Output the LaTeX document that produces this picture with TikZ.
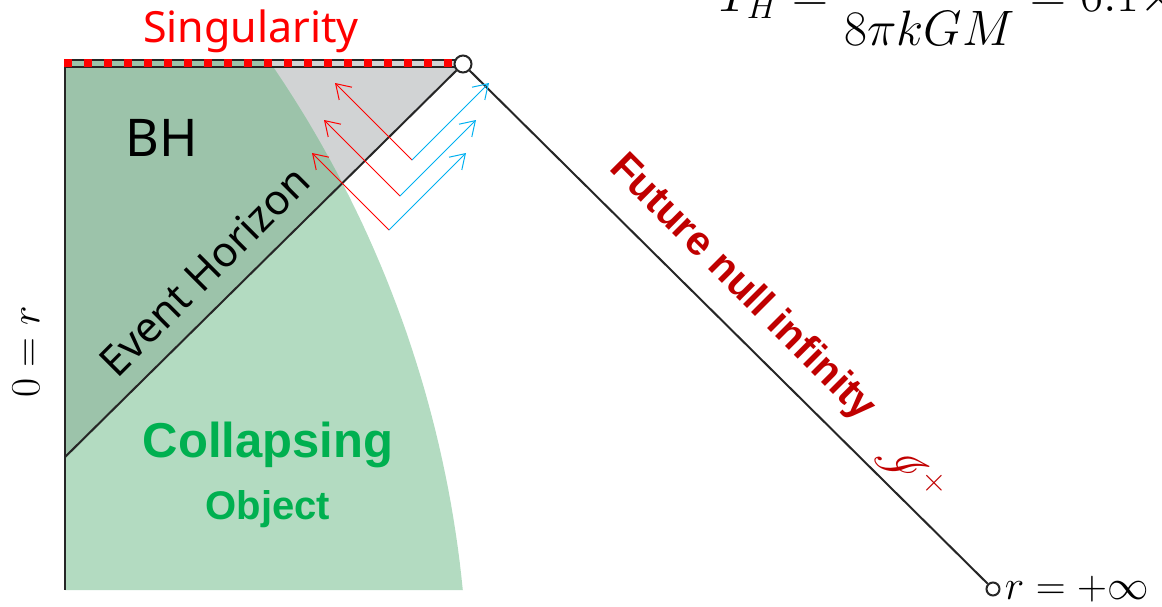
\documentclass[tikz,border=0pt]{standalone}
\usepackage[no-math]{fontspec}
\setmainfont{Noto Sans}
\newfontfamily\heavysans{Liberation Sans}
\usepackage{amsmath}
\usepackage{mathrsfs}
\usepackage{tikz}
\usetikzlibrary{arrows.meta, positioning}
\definecolor{bhgreen}{RGB}{156,195,170}
\definecolor{objgreen}{RGB}{179,219,193}
\definecolor{bhgray}{RGB}{209,211,212}
\definecolor{objtext}{RGB}{0,176,80}
\definecolor{scrired}{RGB}{192,0,0}
\definecolor{rayblue}{RGB}{0,176,240}
\tikzset{
  boundary/.style={draw=black!85, line width=1pt},
  endpoint/.style={circle, draw=black!85, fill=white, line width=1pt, inner sep=0pt},
  ray/.style={-{Straight Barb[length=7pt, width=9pt]}, line width=0.5pt},
  inray/.style={ray, draw=red},
  outray/.style={ray, draw=rayblue},
  bigmath/.style={font=\fontsize{21}{24}\selectfont, inner sep=0pt}
}

\begin{document}
\begin{tikzpicture}[x=0.5pt, y=-0.5pt]
\useasboundingbox (0,0) rectangle (1162,606);
\clip (0,0) rectangle (1162,606);

% Regions: inside the horizon, then the collapsing object
\fill[bhgray] (65,60) -- (466,60) -- (65,459) -- cycle;
\fill[objgreen] (65,590) -- (463,590)
  -- plot[domain=-5.63:-34.7, samples=40] ({-658.3+1126.6*cos(\x)}, {700.6+1126.6*sin(\x)})
  -- (65,60) -- cycle;
\begin{scope}
  \clip (65,60) -- (466,60) -- (65,459) -- cycle;
  \fill[bhgreen] (65,590) -- (463,590)
    -- plot[domain=-5.63:-34.7, samples=40] ({-658.3+1126.6*cos(\x)}, {700.6+1126.6*sin(\x)})
    -- (65,60) -- cycle;
\end{scope}

% Ends of the diagram
\node (iplus) [endpoint, minimum size=8.5pt] at (463,64) {};
\node (izero) [endpoint, minimum size=6.5pt] at (993,589) {};
\coordinate (rzerotop) at (65,60);
\coordinate (rzerobot) at (65,590);
\coordinate (hbot) at (65,457);
\coordinate (singleft) at (64,63);
\coordinate (singright) at (455,63);

% Boundaries
\draw[boundary] (rzerotop) -- (rzerobot);
\draw[boundary] (hbot) -- (iplus);
\draw[boundary] (iplus) -- (izero);
\draw[boundary] ([yshift=1.75pt]singleft) -- ([yshift=1.75pt]singright);
\draw[boundary] ([yshift=-1.75pt]singleft) -- ([yshift=-1.75pt]singright);
\draw[red, line width=4.2pt, dash pattern=on 4.2pt off 5.8pt] (singleft) -- ([xshift=-1.5pt]singright);

% Hawking pairs at the horizon
\foreach \vx/\vy/\len [count=\i] in {412/160/77, 400/196/76, 389/230/77} {
  \coordinate (v\i) at (\vx,\vy);
  \draw[inray] (v\i) -- ++(-\len,-\len) coordinate (in\i);
  \draw[outray] (v\i) -- ++(\len,-\len) coordinate (out\i);
}

% Labels
\node (sing) [text=red, font=\fontsize{21.5}{24}\selectfont] at (251,31) {Singularity};
\node (bh) [font=\fontsize{26}{28}\selectfont] at (162,138) {BH};
\node (horizon) [rotate=45, font=\fontsize{21}{24}\selectfont] at (204,271) {Event Horizon};
\node (collapse) [text=objtext, font=\heavysans\bfseries\fontsize{24.5}{26}\selectfont] at (268,445) {Collapsing};
\node (object) [text=objtext, font=\heavysans\bfseries\fontsize{20}{22}\selectfont, below=4pt of collapse] {Object};
\node (scri) [rotate=-45, text=scrired, font=\heavysans\bfseries\fontsize{20.5}{24}\selectfont] at (742,288) {Future null infinity};
\node (scrisym) [rotate=-45, text=scrired, font=\fontsize{25}{28}\selectfont, inner sep=0pt] at (912,472) {$\mathscr{I}^{+}$};
\node (rzero) [rotate=90, bigmath] at (26,352) {$0=r$};
\node (rinf) [bigmath, right=2pt of izero] {$r=+\infty$};
\node (hawking) [anchor=base west, font=\fontsize{23}{26}\selectfont, inner sep=0pt] at (718,11)
  {$\displaystyle T_H=\frac{\phantom{\hbar c^3}}{8\pi kGM}=6.1\times$};
\end{tikzpicture}
\end{document}
